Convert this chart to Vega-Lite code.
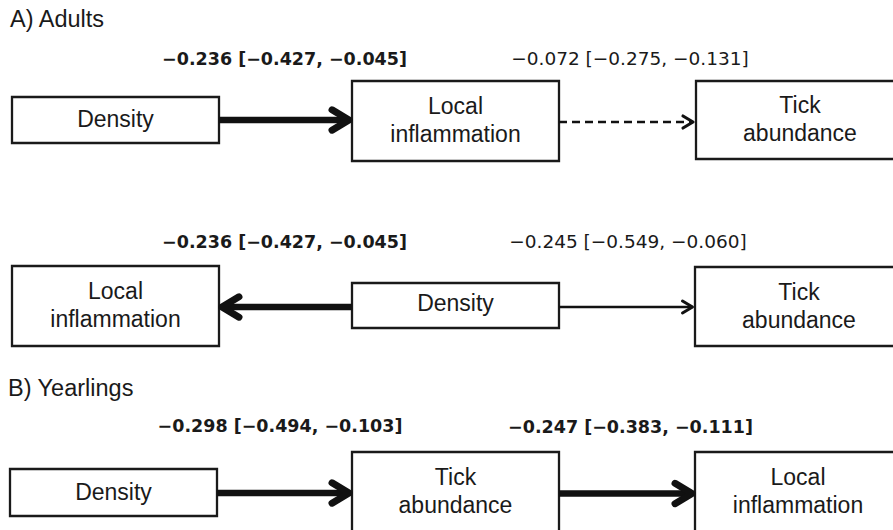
{
  "$schema": "https://vega.github.io/schema/vega-lite/v6.json",
  "width": 893,
  "height": 530,
  "autosize": {"type": "none"},
  "padding": 0,
  "background": "white",
  "config": {"view": {"stroke": null}},
  "datasets": {
    "nodes": [
      {"name": "Density", "x0": 12, "x1": 219, "y0": 97, "y1": 143, "cx": 115.5, "cy": 120},
      {"name": "Local\ninflammation", "x0": 352, "x1": 559, "y0": 81, "y1": 161, "cx": 455.5, "cy": 107},
      {"name": "Tick\nabundance", "x0": 696, "x1": 905, "y0": 81, "y1": 159, "cx": 800, "cy": 106},
      {"name": "Local\ninflammation", "x0": 12, "x1": 219, "y0": 266, "y1": 346, "cx": 115.5, "cy": 292},
      {"name": "Density", "x0": 352, "x1": 559, "y0": 283, "y1": 328, "cx": 455.5, "cy": 304},
      {"name": "Tick\nabundance", "x0": 695, "x1": 905, "y0": 267, "y1": 346, "cx": 799, "cy": 292.5},
      {"name": "Density", "x0": 10, "x1": 217, "y0": 469, "y1": 516, "cx": 113.5, "cy": 492.5},
      {"name": "Tick\nabundance", "x0": 352, "x1": 559, "y0": 452, "y1": 532, "cx": 455.5, "cy": 478},
      {"name": "Local\ninflammation", "x0": 695, "x1": 905, "y0": 452, "y1": 532, "cx": 798, "cy": 478}
    ],
    "edges": [
      {"tail": 219, "tip": 349, "y": 120, "strength": "strong", "dir": "right"},
      {"tail": 559, "tip": 693, "y": 122, "strength": "ns", "dir": "right"},
      {"tail": 352, "tip": 222, "y": 307, "strength": "strong", "dir": "left"},
      {"tail": 559, "tip": 692.5, "y": 307, "strength": "weak", "dir": "right"},
      {"tail": 217, "tip": 349, "y": 493, "strength": "strong", "dir": "right"},
      {"tail": 559, "tip": 692, "y": 493.5, "strength": "strong", "dir": "right"}
    ],
    "labels": [
      {"text": "−0.236 [−0.427, −0.045]", "x": 284.5, "y": 65, "sig": true},
      {"text": "−0.072 [−0.275, −0.131]", "x": 630, "y": 65, "sig": false},
      {"text": "−0.236 [−0.427, −0.045]", "x": 284.5, "y": 248, "sig": true},
      {"text": "−0.245 [−0.549, −0.060]", "x": 628, "y": 248, "sig": false},
      {"text": "−0.298 [−0.494, −0.103]", "x": 280, "y": 432, "sig": true},
      {"text": "−0.247 [−0.383, −0.111]", "x": 630.5, "y": 432.5, "sig": true}
    ],
    "titles": [
      {"text": "A) Adults", "x": 10, "y": 27},
      {"text": "B) Yearlings", "x": 8, "y": 396}
    ]
  },
  "resolve": {"scale": {"strokeWidth": "independent"}},
  "layer": [
    {
      "data": {"name": "nodes"},
      "mark": {"type": "rect", "fill": "white", "stroke": "#1a1a1a", "strokeWidth": 2.3, "clip": true},
      "encoding": {
        "x": {"field": "x0", "type": "quantitative", "scale": {"domain": [0, 893], "nice": false, "zero": false}, "axis": null},
        "x2": {"field": "x1"},
        "y": {"field": "y0", "type": "quantitative", "scale": {"domain": [0, 530], "nice": false, "zero": false, "reverse": true}, "axis": null},
        "y2": {"field": "y1"}
      }
    },
    {
      "data": {"name": "nodes"},
      "mark": {"type": "text", "font": "Liberation Sans", "fontSize": 23, "lineBreak": "\n", "lineHeight": 28, "baseline": "middle", "align": "center", "color": "#1a1a1a", "clip": true},
      "encoding": {
        "x": {"field": "cx", "type": "quantitative"},
        "y": {"field": "cy", "type": "quantitative"},
        "text": {"field": "name"}
      }
    },
    {
      "data": {"name": "edges"},
      "mark": {"type": "rule", "color": "#111111", "strokeCap": "butt"},
      "encoding": {
        "x": {"field": "tail", "type": "quantitative"},
        "x2": {"field": "tip"},
        "y": {"field": "y", "type": "quantitative"},
        "strokeWidth": {"field": "strength", "type": "ordinal", "scale": {"type": "ordinal", "domain": ["strong", "weak", "ns"], "range": [6.5, 2.4, 2.6]}, "legend": null},
        "strokeDash": {"field": "strength", "type": "ordinal", "scale": {"domain": ["strong", "weak", "ns"], "range": [[1, 0], [1, 0], [8, 5]]}, "legend": null}
      }
    },
    {
      "data": {"name": "edges"},
      "mark": {"type": "point", "shape": "M -1 -0.6 L 0 0 L -1 0.6", "filled": false, "color": "#111111", "opacity": 1, "strokeCap": "round", "strokeJoin": "round"},
      "encoding": {
        "x": {"field": "tip", "type": "quantitative"},
        "y": {"field": "y", "type": "quantitative"},
        "size": {"field": "strength", "type": "ordinal", "scale": {"type": "ordinal", "domain": ["strong", "weak", "ns"], "range": [1150, 400, 400]}, "legend": null},
        "strokeWidth": {"field": "strength", "type": "ordinal", "scale": {"type": "ordinal", "domain": ["strong", "weak", "ns"], "range": [7, 3, 3.2]}, "legend": null},
        "angle": {"field": "dir", "type": "ordinal", "scale": {"type": "ordinal", "domain": ["right", "left"], "range": [0, 180]}, "legend": null}
      }
    },
    {
      "data": {"name": "labels"},
      "transform": [{"filter": "datum.sig"}],
      "mark": {"type": "text", "font": "DejaVu Sans", "fontWeight": "bold", "fontSize": 17.5, "baseline": "alphabetic", "align": "center", "color": "#1a1a1a"},
      "encoding": {
        "x": {"field": "x", "type": "quantitative"},
        "y": {"field": "y", "type": "quantitative"},
        "text": {"field": "text"}
      }
    },
    {
      "data": {"name": "labels"},
      "transform": [{"filter": "!datum.sig"}],
      "mark": {"type": "text", "font": "DejaVu Sans", "fontSize": 18.5, "baseline": "alphabetic", "align": "center", "color": "#1a1a1a"},
      "encoding": {
        "x": {"field": "x", "type": "quantitative"},
        "y": {"field": "y", "type": "quantitative"},
        "text": {"field": "text"}
      }
    },
    {
      "data": {"name": "titles"},
      "mark": {"type": "text", "font": "Liberation Sans", "fontSize": 23.5, "baseline": "alphabetic", "align": "left", "color": "#1a1a1a"},
      "encoding": {
        "x": {"field": "x", "type": "quantitative"},
        "y": {"field": "y", "type": "quantitative"},
        "text": {"field": "text"}
      }
    }
  ]
}
